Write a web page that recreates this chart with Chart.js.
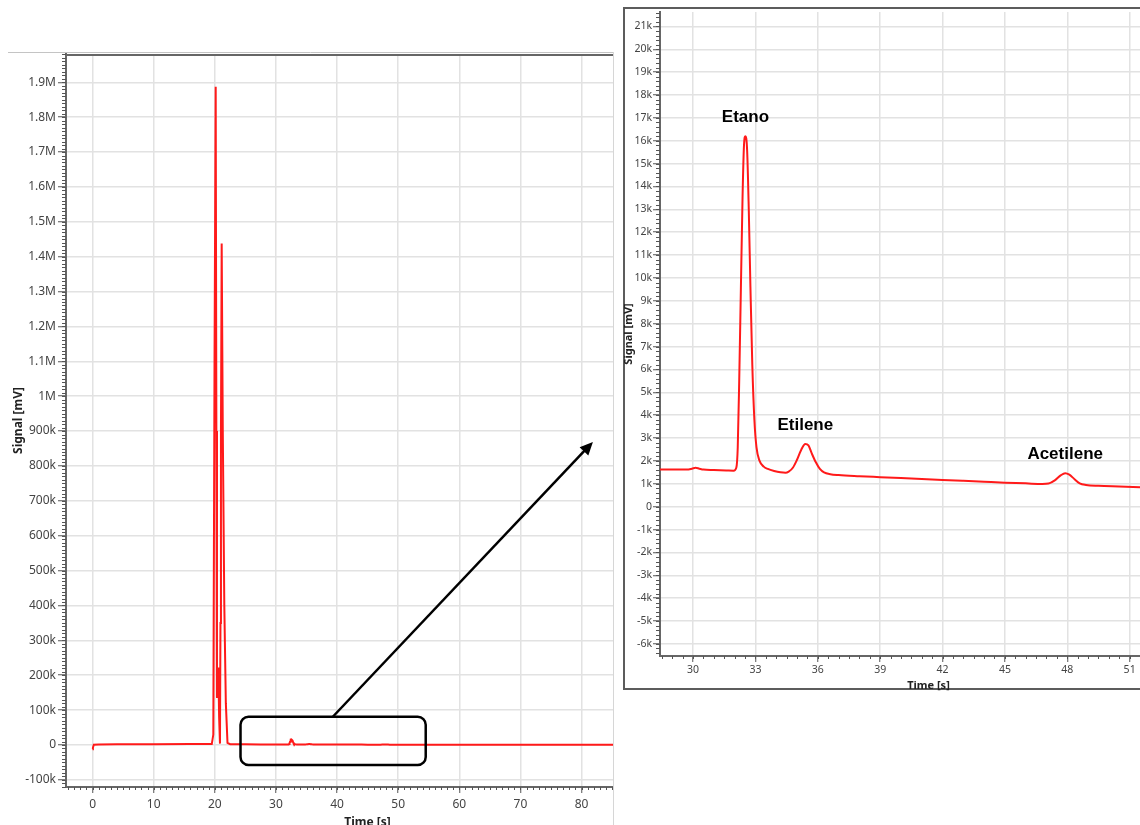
<!DOCTYPE html>
<html lang="pt-br">
<head>
<meta charset="UTF-8">
<title>Cromatograma</title>
<script src="https://cdn.jsdelivr.net/npm/chart.js@4"></script>
<style>
  body { margin: 0; width: 1140px; height: 825px; overflow: hidden; background: #fff; position: relative; }
  #fullChart { position: absolute; left: 0; top: 0; z-index: 1; }
  .gap { position: absolute; left: 613px; top: 52px; width: 600px; height: 800px; background: #fff; border-left: 1px solid #d6d6d6; z-index: 2; }
  .panel { position: absolute; left: 623px; top: 7px; width: 600px; height: 679px; border: 2px solid #5c5c5c; background: #fff; z-index: 3; }
  #zoomChart { position: absolute; left: 620px; top: 0; z-index: 4; }
</style>
</head>
<body>
  <canvas id="fullChart" width="670" height="835"></canvas>
  <div class="gap"></div>
  <div class="panel"></div>
  <canvas id="zoomChart" width="580" height="700"></canvas>

<script>
  // whole run (s, mV), outside the zoomed window
  const runTime = [0, 0.05, 0.2, 1, 4, 10, 16, 19.5, 19.75, 19.95, 20.14, 20.25, 20.35, 20.45, 20.57, 20.7, 20.84,
    20.92, 21.0, 21.12, 21.3, 21.55, 21.8, 22.07, 22.5, 25, 27.5, 57, 62, 70, 80, 95];
  const runSignal = [-12000, -8000, 600, 1500, 2200, 2500, 2600, 2700, 30000, 1100000, 1887000, 900000, 135000, 170000, 222000, 80000, 4000,
    350000, 900000, 1438000, 900000, 400000, 120000, 6000, 2500, 1900, 1700, 780, 720, 600, 500, 400];

  // zoomed window 28-55 s
  const zoomTime = [28.0, 29.0, 29.7, 29.95, 30.12, 30.3, 30.5, 31.0, 31.6, 31.95, 32.08, 32.15, 32.22, 32.3, 32.38, 32.45,
    32.52, 32.6, 32.68, 32.76, 32.85, 32.95, 33.05, 33.2, 33.4, 33.6, 33.9, 34.2, 34.45, 34.6, 34.8, 35.0, 35.2, 35.4,
    35.55, 35.7, 35.9, 36.1, 36.3, 36.6, 37.0, 38, 39, 40, 41, 42, 43, 44, 45, 46, 46.8, 47.1, 47.4, 47.7, 47.9, 48.1,
    48.35, 48.6, 48.9, 49.5, 50.5, 51.5, 52.5, 53.5, 54.5];
  const zoomSignal = [1620, 1620, 1620, 1660, 1700, 1660, 1620, 1600, 1580, 1570, 1700, 2600, 5500, 9500, 13500, 15800,
    16200, 15600, 13000, 9600, 6200, 3800, 2600, 2000, 1750, 1650, 1560, 1500, 1480, 1530, 1700, 2050, 2480, 2740,
    2680, 2350, 1950, 1650, 1500, 1420, 1380, 1330, 1290, 1250, 1210, 1170, 1130, 1090, 1050, 1020, 990, 1010, 1150, 1380, 1460, 1400,
    1200, 1020, 950, 910, 880, 850, 830, 820, 810];

  const peakNames = ['Etano', 'Etilene', 'Acetilene'];
  const peakTimes = [32.52, 35.4, 47.9];

  // tick values
  const fullTicksX = [0, 10, 20, 30, 40, 50, 60, 70, 80, 90];
  const fullTicksY = [-100000, 0, 100000, 200000, 300000, 400000, 500000, 600000, 700000, 800000, 900000, 1000000,
    1100000, 1200000, 1300000, 1400000, 1500000, 1600000, 1700000, 1800000, 1900000];
  const zoomTicksX = [30, 33, 36, 39, 42, 45, 48, 51, 54];
  const zoomTicksY = [-6000, -5000, -4000, -3000, -2000, -1000, 0, 1000, 2000, 3000, 4000, 5000, 6000, 7000, 8000,
    9000, 10000, 11000, 12000, 13000, 14000, 15000, 16000, 17000, 18000, 19000, 20000, 21000];

  const toPoints = (ts, vs) => ts.map((t, i) => ({ x: t, y: vs[i] }));
  const zoomPts = toPoints(zoomTime, zoomSignal);
  const runPts = toPoints(runTime, runSignal);
  const fullPts = runPts.filter(p => p.x < zoomTime[0])
    .concat(zoomPts)
    .concat(runPts.filter(p => p.x > zoomTime[zoomTime.length - 1]));

  const setTicks = vals => s => { s.ticks = vals.map(v => ({ value: v })); };

  function fmtSignal(v) {
    if (v === 0) return '0';
    if (Math.abs(v) >= 1e6) return +(v / 1e6).toFixed(1) + 'M';
    return Math.round(v / 1000) + 'k';
  }

  function minorTicks(xStep, yStep, xLen, yLen) {
    return {
      id: 'minorTicks',
      afterDraw(chart) {
        const { ctx, chartArea: a, scales: { x, y } } = chart;
        ctx.save();
        ctx.strokeStyle = '#555';
        ctx.lineWidth = 1;
        ctx.beginPath();
        for (let i = Math.ceil(x.min / xStep); i * xStep <= x.max; i++) {
          const px = Math.round(x.getPixelForValue(i * xStep)) + 0.5;
          ctx.moveTo(px, a.bottom);
          ctx.lineTo(px, a.bottom + xLen);
        }
        for (let i = Math.ceil(y.min / yStep); i * yStep <= y.max; i++) {
          const py = Math.round(y.getPixelForValue(i * yStep)) + 0.5;
          ctx.moveTo(a.left - yLen, py);
          ctx.lineTo(a.left, py);
        }
        ctx.stroke();
        ctx.restore();
      }
    };
  }

  // frame lines + zoom box + arrow on the big chart
  const fullNotes = {
    id: 'fullNotes',
    afterDatasetsDraw(chart) {
      const { ctx, chartArea: a, scales: { x, y } } = chart;
      ctx.save();
      ctx.strokeStyle = '#c4c4c4';
      ctx.lineWidth = 1;
      ctx.beginPath();
      ctx.moveTo(8, 52.5); ctx.lineTo(613, 52.5);
      ctx.stroke();
      ctx.strokeStyle = '#666';
      ctx.lineWidth = 2;
      ctx.beginPath();
      ctx.moveTo(a.left, a.top + 1); ctx.lineTo(613, a.top + 1);
      ctx.stroke();

      const x0 = x.getPixelForValue(24.2), x1 = x.getPixelForValue(54.5);
      const y0 = y.getPixelForValue(81000), y1 = y.getPixelForValue(-57000);
      const r = 8;
      ctx.strokeStyle = '#000';
      ctx.lineWidth = 2.5;
      ctx.beginPath();
      ctx.moveTo(x0 + r, y0);
      ctx.arcTo(x1, y0, x1, y1, r);
      ctx.arcTo(x1, y1, x0, y1, r);
      ctx.arcTo(x0, y1, x0, y0, r);
      ctx.arcTo(x0, y0, x1, y0, r);
      ctx.closePath();
      ctx.stroke();

      const sx = x.getPixelForValue(39.3), sy = y0;
      const ex = x.getPixelForValue(81.85), ey = y.getPixelForValue(869000);
      const ang = Math.atan2(ey - sy, ex - sx);
      const hl = 13, hw = 6;
      ctx.beginPath();
      ctx.moveTo(sx, sy);
      ctx.lineTo(ex - Math.cos(ang) * hl * 0.8, ey - Math.sin(ang) * hl * 0.8);
      ctx.stroke();
      ctx.fillStyle = '#000';
      ctx.beginPath();
      ctx.moveTo(ex, ey);
      ctx.lineTo(ex - Math.cos(ang) * hl - Math.sin(ang) * hw, ey - Math.sin(ang) * hl + Math.cos(ang) * hw);
      ctx.lineTo(ex - Math.cos(ang) * hl + Math.sin(ang) * hw, ey - Math.sin(ang) * hl - Math.cos(ang) * hw);
      ctx.closePath();
      ctx.fill();
      ctx.restore();
    }
  };

  // peak names above each peak of the zoomed chart
  const peakLabels = {
    id: 'peakLabels',
    afterDatasetsDraw(chart) {
      const { ctx, scales: { x, y } } = chart;
      ctx.save();
      ctx.font = 'bold 17px "Liberation Sans", Arial, sans-serif';
      ctx.fillStyle = '#000';
      ctx.textAlign = 'center';
      ctx.textBaseline = 'middle';
      peakNames.forEach((name, i) => {
        let top = -Infinity;
        zoomTime.forEach((t, j) => {
          if (Math.abs(t - peakTimes[i]) < 0.4) top = Math.max(top, zoomSignal[j]);
        });
        ctx.fillText(name, x.getPixelForValue(peakTimes[i]), y.getPixelForValue(top) - 19);
      });
      ctx.restore();
    }
  };

  const tickFont = size => ({ family: '"Noto Sans", "Open Sans", sans-serif', size: size });
  const titleFont = size => ({ family: '"Noto Sans", "Open Sans", sans-serif', size: size, weight: 'bold' });

  new Chart(document.getElementById('fullChart'), {
    type: 'line',
    data: {
      datasets: [{
        data: fullPts,
        borderColor: '#ff1a1a',
        borderWidth: 2,
        pointRadius: 0,
        tension: 0
      }]
    },
    options: {
      responsive: false,
      animation: false,
      events: [],
      devicePixelRatio: 1,
      layout: { padding: { top: 54, left: 0, right: 1, bottom: 0 } },
      plugins: { legend: { display: false }, tooltip: { enabled: false } },
      scales: {
        x: {
          type: 'linear',
          min: -4.35,
          max: 94.3,
          afterFit: s => { s.height = 48; },
          afterBuildTicks: setTicks(fullTicksX),
          ticks: { autoSkip: false, padding: 4, color: '#444', font: tickFont(12), callback: v => v },
          grid: { color: '#e2e2e2', lineWidth: 1.5, tickColor: '#555', tickLength: 6, tickWidth: 1 },
          border: { color: '#666', width: 2 },
          title: { display: true, text: 'Time [s]', color: '#222', font: titleFont(12), padding: { top: 0, bottom: 5 } }
        },
        y: {
          min: -120400,
          max: 1981000,
          afterFit: s => { s.width = 66; },
          afterBuildTicks: setTicks(fullTicksY),
          ticks: { autoSkip: false, padding: 2, color: '#444', font: tickFont(12), callback: fmtSignal },
          grid: { color: '#e2e2e2', lineWidth: 1.5, tickColor: '#555', tickLength: 8, tickWidth: 1 },
          border: { color: '#666', width: 2 },
          title: { display: true, text: 'Signal [mV]', color: '#222', font: titleFont(12), padding: { top: 11, bottom: 0 } }
        }
      }
    },
    plugins: [minorTicks(1, 10000, 3, 4), fullNotes]
  });

  new Chart(document.getElementById('zoomChart'), {
    type: 'line',
    data: {
      datasets: [{
        data: zoomPts,
        borderColor: '#ff1a1a',
        borderWidth: 2,
        pointRadius: 0,
        cubicInterpolationMode: 'monotone'
      }]
    },
    options: {
      responsive: false,
      animation: false,
      events: [],
      devicePixelRatio: 1,
      layout: { padding: { top: 12, left: 0, right: 0, bottom: 0 } },
      plugins: { legend: { display: false }, tooltip: { enabled: false } },
      scales: {
        x: {
          type: 'linear',
          min: 28.41,
          max: 54.24,
          afterFit: s => { s.height = 44; },
          afterBuildTicks: setTicks(zoomTicksX),
          ticks: { autoSkip: false, padding: 2, color: '#444', font: tickFont(10.5), callback: v => v },
          grid: { color: '#e2e2e2', lineWidth: 1.5, tickColor: '#555', tickLength: 6, tickWidth: 1 },
          border: { color: '#666', width: 2 },
          title: { display: true, text: 'Time [s]', color: '#222', font: titleFont(11), padding: { top: 0, bottom: 8 } }
        },
        y: {
          min: -6530,
          max: 21630,
          afterFit: s => { s.width = 40; },
          afterBuildTicks: setTicks(zoomTicksY),
          ticks: { autoSkip: false, padding: 1, color: '#444', font: tickFont(10.5), callback: fmtSignal },
          grid: { color: '#e2e2e2', lineWidth: 1.5, tickColor: '#555', tickLength: 7, tickWidth: 1 },
          border: { color: '#666', width: 2 },
          title: { display: true, text: 'Signal [mV]', color: '#222', font: titleFont(11), padding: { top: 2, bottom: 0 } }
        }
      }
    },
    plugins: [minorTicks(0.5, 200, 3, 4), peakLabels]
  });
</script>
</body>
</html>
